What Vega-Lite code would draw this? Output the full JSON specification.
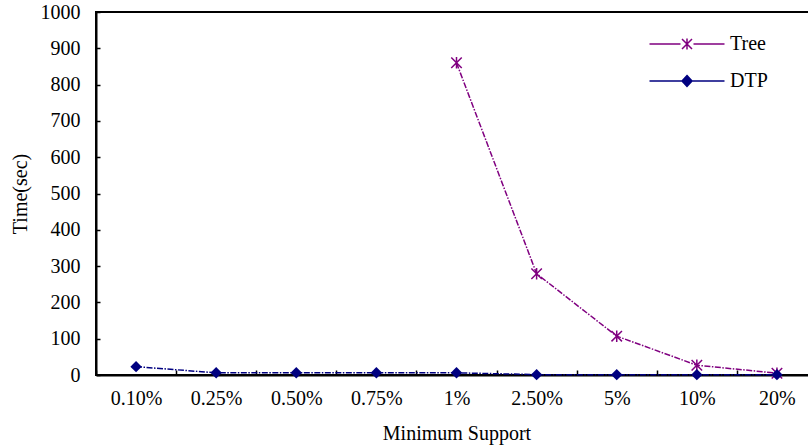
{
  "$schema": "https://vega.github.io/schema/vega-lite/v6.json",
  "width": 721,
  "height": 363,
  "autosize": {"type": "none"},
  "padding": {"left": 96, "top": 12, "right": 0, "bottom": 72},
  "background": "white",
  "config": {
    "font": "Liberation Serif",
    "view": {"stroke": "black", "strokeWidth": 2},
    "axis": {"grid": false, "domainColor": "black", "domainWidth": 2, "tickColor": "black", "tickWidth": 1.5, "labelColor": "black", "titleColor": "black", "labelFont": "Liberation Serif", "titleFont": "Liberation Serif", "labelFontSize": 20, "titleFontSize": 20, "titleFontWeight": "normal"}
  },
  "data": {
    "values": [
      {"support": "1%", "series": "Tree", "time": 860},
      {"support": "2.50%", "series": "Tree", "time": 279},
      {"support": "5%", "series": "Tree", "time": 107},
      {"support": "10%", "series": "Tree", "time": 27},
      {"support": "20%", "series": "Tree", "time": 5},
      {"support": "0.10%", "series": "DTP", "time": 23},
      {"support": "0.25%", "series": "DTP", "time": 6},
      {"support": "0.50%", "series": "DTP", "time": 6},
      {"support": "0.75%", "series": "DTP", "time": 6},
      {"support": "1%", "series": "DTP", "time": 6},
      {"support": "2.50%", "series": "DTP", "time": 1},
      {"support": "5%", "series": "DTP", "time": 1},
      {"support": "10%", "series": "DTP", "time": 1},
      {"support": "20%", "series": "DTP", "time": 1}
    ]
  },
  "encoding": {
    "x": {
      "field": "support", "type": "ordinal", "bandPosition": 0.5,
      "scale": {"type": "band", "domain": ["0.10%", "0.25%", "0.50%", "0.75%", "1%", "2.50%", "5%", "10%", "20%"], "paddingInner": 0, "paddingOuter": 0},
      "axis": {"title": "Minimum Support", "labelAngle": 0, "tickBand": "extent", "tickSize": -5, "labelPadding": 18, "titlePadding": 15}
    },
    "y": {
      "field": "time", "type": "quantitative",
      "scale": {"domain": [0, 1000], "nice": false},
      "axis": {"title": "Time(sec)", "format": "d", "values": [0, 100, 200, 300, 400, 500, 600, 700, 800, 900, 1000], "tickSize": -4, "labelPadding": 20, "titlePadding": 10}
    },
    "color": {
      "field": "series", "type": "nominal",
      "scale": {"domain": ["Tree", "DTP"], "range": ["#800080", "#000080"]},
      "legend": {
        "title": null, "orient": "none", "legendX": 581, "legendY": 22,
        "labelFontSize": 20, "labelColor": "black", "labelFont": "Liberation Serif",
        "symbolSize": 100, "labelOffset": 33, "rowPadding": 17, "padding": 0,
        "symbolStrokeWidth": 1.5,
        "encode": {
          "symbols": {
            "update": {
              "shape": {"signal": "datum.value === 'Tree' ? 'M-7.5,0H-1.3M1.3,0H7.5M-1,-1L1,1M-1,1L1,-1M0,-1.1L0,1.1' : 'M-7.5,0H7.5M0,-1.1L1,0L0,1.1L-1,0Z'"},
              "fill": {"signal": "datum.value === 'Tree' ? 'transparent' : '#000080'"},
              "stroke": {"signal": "datum.value === 'Tree' ? '#800080' : '#000080'"}
            }
          }
        }
      }
    }
  },
  "layer": [
    {"mark": {"type": "line", "strokeWidth": 1.5, "strokeDash": [6, 1.5, 1.5, 1.5]}},
    {
      "transform": [{"filter": "datum.series === 'Tree'"}],
      "mark": {"type": "point", "shape": "M-1,-1L1,1M-1,1L1,-1M0,-1.1L0,1.1", "size": 110, "filled": false, "strokeWidth": 1.5, "opacity": 1}
    },
    {
      "transform": [{"filter": "datum.series === 'DTP'"}],
      "mark": {"type": "point", "shape": "diamond", "size": 130, "filled": true, "opacity": 1}
    }
  ]
}
